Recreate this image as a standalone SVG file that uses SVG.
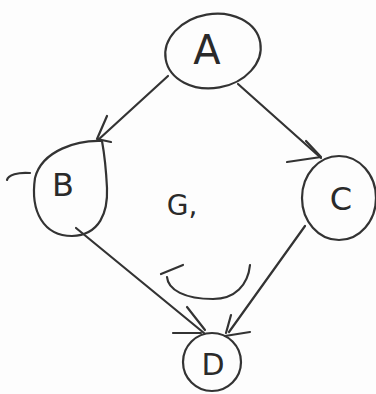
<svg xmlns="http://www.w3.org/2000/svg" width="376" height="394" viewBox="0 0 376 394">
<style>
.s{fill:none;stroke:#333;stroke-width:2.2;stroke-linecap:round;stroke-linejoin:round}
.t{font-family:"DejaVu Sans",sans-serif;fill:#2a2a2a}
</style>
<rect width="376" height="394" fill="#fdfdfd"/>
<g id="connectors">
<path class="s" d="M168,76 L98,140"/>
<path class="s" d="M107,116 L97,139 L111,142"/>
<path class="s" d="M238,84 L321,158"/>
<path class="s" d="M287,162 L321,157 L306,141"/>
<path class="s" d="M76,228 L204,333"/>
<path class="s" d="M173,333 L201,333 M187,307 L205,330"/>
<path class="s" d="M305,226 L229,332"/>
<path class="s" d="M231,315 L226,333 M225,336 L250,332"/>
<path class="s" d="M161,274 L183,265 M167,277 C168,290 185,299 213,299 C235,299 248,285 250,265"/>
</g>
<g id="node-A">
<ellipse class="s" cx="213" cy="51" rx="48" ry="37" transform="rotate(-10 213 51)"/>
<text class="t" x="207" y="64" font-size="40" text-anchor="middle">A</text>
</g>
<g id="node-B">
<path class="s" d="M102,141 C78,140 42,150 35,178 C30,212 44,236 72,236 C100,235 108,212 107,188 C106,168 104,152 102,141 Z"/>
<path class="s" d="M7,180 C8,175 18,172 30,173"/>
<text class="t" x="63" y="196" font-size="32" text-anchor="middle">B</text>
</g>
<g id="node-C">
<ellipse class="s" cx="339" cy="198" rx="37" ry="42"/>
<text class="t" x="341" y="210" font-size="32" text-anchor="middle">C</text>
</g>
<g id="node-D">
<ellipse class="s" cx="212" cy="362" rx="29" ry="29"/>
<text class="t" x="213" y="375" font-size="30" text-anchor="middle">D</text>
</g>
<g id="label-G">
<text class="t" x="182" y="215" font-size="28" text-anchor="middle">G,</text>
</g>
</svg>
